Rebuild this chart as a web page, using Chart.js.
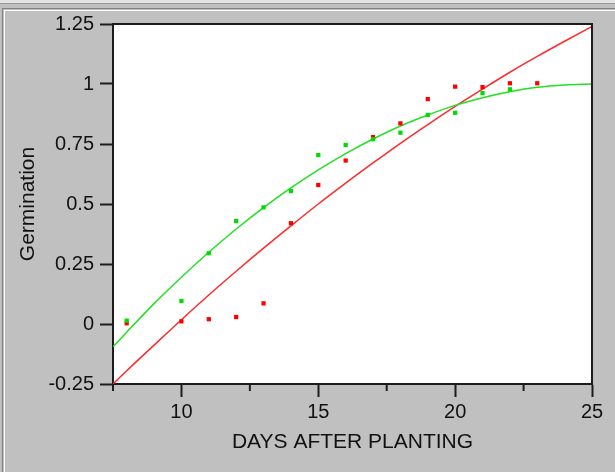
<!DOCTYPE html>
<html>
<head>
<meta charset="utf-8">
<script src="https://cdn.jsdelivr.net/npm/chart.js@4"></script>
<style>
  html, body { margin: 0; padding: 0; background: #c0c0c0; }
  #wrap { width: 615px; height: 472px; }
</style>
</head>
<body>
<div id="wrap"><canvas id="c" width="615" height="472"></canvas></div>
<script>
// ---- data ----
const redDays   = [8, 10, 11, 12, 13, 14, 15, 16, 17, 18, 19, 20, 21, 22, 23];
const redObs    = [0.003, 0.011, 0.020, 0.029, 0.086, 0.420, 0.579, 0.681, 0.779, 0.836, 0.937, 0.989, 0.987, 1.003, 1.003];
const greenDays = [8, 10, 11, 12, 13, 14, 15, 16, 17, 18, 19, 20, 21, 22];
const greenObs  = [0.014, 0.096, 0.295, 0.429, 0.486, 0.554, 0.704, 0.746, 0.770, 0.797, 0.871, 0.880, 0.962, 0.978];

const fitDays   = [7.5, 8, 9, 10, 11, 12, 13, 14, 15, 16, 17, 18, 19, 20, 21, 22, 23, 24, 25];
const redFit    = [-0.25, -0.195, -0.088, 0.018, 0.121, 0.220, 0.316, 0.409, 0.500, 0.587, 0.671, 0.753, 0.831, 0.907, 0.979, 1.049, 1.115, 1.178, 1.24];
const greenFit  = [-0.095, -0.034, 0.085, 0.195, 0.299, 0.396, 0.485, 0.567, 0.642, 0.710, 0.771, 0.825, 0.871, 0.911, 0.943, 0.968, 0.986, 0.996, 1.0];

const xTickLabels = ['10', '15', '20', '25'];
const yTickLabels = ['-0.25', '0', '0.25', '0.5', '0.75', '1', '1.25'];

const xTitle = 'DAYS AFTER PLANTING';
const yTitle = 'Germination';

// ---- helpers ----
const pts = (xs, ys) => xs.map((x, i) => ({ x: x, y: ys[i] }));
const AXIS = '#1c1c1c';
const FONT = '"Liberation Sans", Arial, sans-serif';

const framePlugin = {
  id: 'frame',
  beforeDraw(chart) {
    const { ctx, chartArea: a } = chart;
    ctx.save();
    ctx.fillStyle = '#c0c0c0';
    ctx.fillRect(0, 0, chart.width, chart.height);
    // window frame lines
    ctx.fillStyle = '#e4e4e4'; ctx.fillRect(0, 0, chart.width, 3);
    ctx.fillStyle = '#9a9a9a'; ctx.fillRect(0, 3, chart.width, 1);
    ctx.fillStyle = '#808080'; ctx.fillRect(2, 8, chart.width - 2, 1);
    ctx.fillStyle = '#ffffff'; ctx.fillRect(4, 10, chart.width - 4, 1);
    ctx.fillStyle = '#808080'; ctx.fillRect(2, 8, 1, chart.height - 8);
    ctx.fillStyle = '#ffffff'; ctx.fillRect(4, 10, 1, chart.height - 10);
    // plot background
    ctx.fillStyle = '#ffffff';
    ctx.fillRect(a.left, a.top, a.right - a.left, a.bottom - a.top);
    ctx.restore();
  },
  afterDraw(chart) {
    const { ctx, chartArea: a } = chart;
    const xs = chart.scales.x;
    ctx.save();
    ctx.strokeStyle = AXIS;
    ctx.lineWidth = 2;
    ctx.beginPath();
    ctx.moveTo(a.left, a.top);
    ctx.lineTo(a.right, a.top);
    ctx.lineTo(a.right, a.bottom);
    ctx.stroke();
    // minor x ticks (from the scale's own ticks)
    ctx.beginPath();
    xs.ticks.forEach(t => {
      if (t.value % 5 !== 0) {
        const px = xs.getPixelForValue(t.value);
        ctx.moveTo(px, a.bottom);
        ctx.lineTo(px, a.bottom + 7);
      }
    });
    ctx.stroke();
    ctx.restore();
  }
};

new Chart(document.getElementById('c'), {
  type: 'scatter',
  data: {
    datasets: [
      {
        label: 'red fit', data: pts(fitDays, redFit), showLine: true,
        borderColor: '#ff2a2a', borderWidth: 1.5, pointRadius: 0,
        cubicInterpolationMode: 'monotone', order: 3
      },
      {
        label: 'green fit', data: pts(fitDays, greenFit), showLine: true,
        borderColor: '#22e022', borderWidth: 1.5, pointRadius: 0,
        cubicInterpolationMode: 'monotone', order: 2
      },
      {
        label: 'red obs', data: pts(redDays, redObs), showLine: false,
        pointStyle: 'rect', pointRadius: 3, pointBorderWidth: 0,
        backgroundColor: '#ff0000', borderColor: '#ff0000', order: 1
      },
      {
        label: 'green obs', data: pts(greenDays, greenObs), showLine: false,
        pointStyle: 'rect', pointRadius: 3, pointBorderWidth: 0,
        backgroundColor: '#00dc00', borderColor: '#00dc00', order: 0
      }
    ]
  },
  options: {
    responsive: false,
    animation: false,
    events: [],
    layout: { padding: { left: 0, top: 24, right: 23, bottom: 0 } },
    plugins: { legend: { display: false }, tooltip: { enabled: false } },
    scales: {
      x: {
        type: 'linear', min: 7.5, max: 25,
        afterFit: s => { s.height = 88; },
        border: { display: true, color: AXIS, width: 2 },
        grid: {
          drawOnChartArea: false, drawTicks: true, tickLength: 13, tickWidth: 2,
          tickColor: c => (c.tick && c.tick.value % 5 === 0) ? AXIS : 'rgba(0,0,0,0)'
        },
        ticks: {
          stepSize: 2.5, autoSkip: false, maxRotation: 0, padding: 3,
          color: '#111', font: { family: FONT, size: 20 },
          callback: v => xTickLabels.includes(String(v)) ? String(v) : ''
        },
        title: {
          display: true, text: xTitle, color: '#111',
          font: { family: FONT, size: 21 }, padding: { top: 0, bottom: 17 }
        }
      },
      y: {
        type: 'linear', min: -0.25, max: 1.25,
        afterFit: s => { s.width = 113; },
        border: { display: true, color: AXIS, width: 2 },
        grid: {
          drawOnChartArea: false, drawTicks: true, tickLength: 13, tickWidth: 2, tickColor: AXIS
        },
        ticks: {
          stepSize: 0.25, autoSkip: false, padding: 6,
          color: '#111', font: { family: FONT, size: 20 },
          callback: (v, i) => yTickLabels[i]
        },
        title: {
          display: true, text: yTitle, color: '#111',
          font: { family: FONT, size: 21 }, padding: { top: 16, bottom: 0 }
        }
      }
    }
  },
  plugins: [framePlugin]
});
</script>
</body>
</html>
